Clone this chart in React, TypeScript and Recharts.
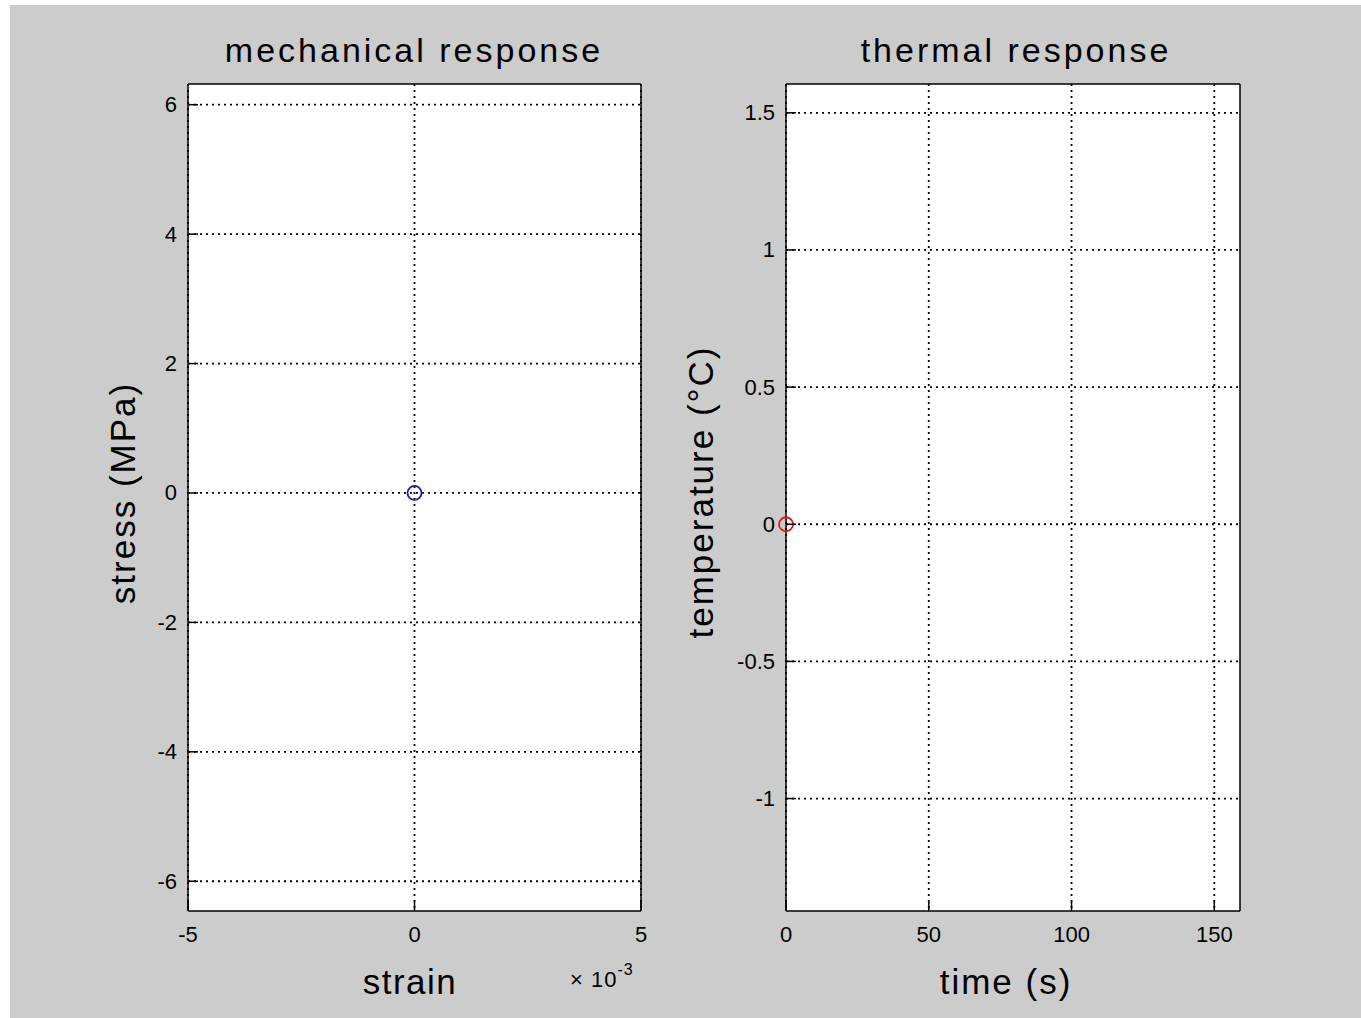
import React from 'react';
import { ScatterChart, Scatter, XAxis, YAxis, CartesianGrid } from 'recharts';

// mechanical response
const strainTicks = [-5, 0, 5];
const stressTicks = [-6, -4, -2, 0, 2, 4, 6];
const strainDomain = [-5, 5];
const stressDomain = [-6.46, 6.32];
const mechPoints = [{ strain: 0, stress: 0 }];

// thermal response
const timeTicks = [0, 50, 100, 150];
const tempTicks = [-1, -0.5, 0, 0.5, 1, 1.5];
const timeDomain = [0, 159];
const tempDomain = [-1.41, 1.605];
const thermPoints = [{ time: 0, temp: 0 }];

const FONT = '"Liberation Sans", Arial, sans-serif';
const TICK_LEN = 10;
const tickText = { fontFamily: FONT, fontSize: 22, fill: '#000' };

const LeftTick = ({ x, y, payload }: any) => (
  <g>
    <line x1={x} x2={x + TICK_LEN} y1={y} y2={y} stroke="#000" strokeWidth={1.5} />
    <text x={x - 11} y={y} textAnchor="end" dominantBaseline="central" {...tickText}>
      {payload.value}
    </text>
  </g>
);

const RightTick = ({ x, y }: any) => (
  <line x1={x} x2={x - TICK_LEN} y1={y} y2={y} stroke="#000" strokeWidth={1.5} />
);

const BottomTick = ({ x, y, payload }: any) => (
  <g>
    <line x1={x} x2={x} y1={y} y2={y - TICK_LEN} stroke="#000" strokeWidth={1.5} />
    <text x={x} y={y + 23} textAnchor="middle" dominantBaseline="central" {...tickText}>
      {payload.value}
    </text>
  </g>
);

const TopTick = ({ x, y }: any) => (
  <line x1={x} x2={x} y1={y} y2={y + TICK_LEN} stroke="#000" strokeWidth={1.5} />
);

const ringShape = (color: string) => (props: any) => (
  <circle cx={props.cx} cy={props.cy} r={7} fill="none" stroke={color} strokeWidth={1.8} />
);

const axisLine = { stroke: '#000', strokeWidth: 1.5 };

function Panel({
  width, height, margin, data, xKey, yKey, xDomain, yDomain, xTicks, yTicks, color,
}: any) {
  return (
    <ScatterChart width={width} height={height} margin={margin}>
      <CartesianGrid
        fill="#fff"
        stroke="#000"
        strokeDasharray="2 4"
        strokeWidth={1.8}
        horizontalValues={yTicks}
        verticalValues={xTicks}
      />
      <XAxis
        type="number"
        dataKey={xKey}
        domain={xDomain}
        ticks={xTicks}
        height={1}
        tickSize={0}
        tickMargin={0}
        tickLine={false}
        axisLine={axisLine}
        tick={<BottomTick />}
        interval={0}
      />
      <XAxis
        xAxisId="top"
        orientation="top"
        type="number"
        domain={xDomain}
        ticks={xTicks}
        height={1}
        tickSize={0}
        tickMargin={0}
        tickLine={false}
        axisLine={axisLine}
        tick={<TopTick />}
        interval={0}
      />
      <YAxis
        type="number"
        dataKey={yKey}
        domain={yDomain}
        ticks={yTicks}
        width={1}
        tickSize={0}
        tickMargin={0}
        tickLine={false}
        axisLine={axisLine}
        tick={<LeftTick />}
        interval={0}
      />
      <YAxis
        yAxisId="right"
        orientation="right"
        type="number"
        domain={yDomain}
        ticks={yTicks}
        width={1}
        tickSize={0}
        tickMargin={0}
        tickLine={false}
        axisLine={axisLine}
        tick={<RightTick />}
        interval={0}
      />
      <Scatter data={data} shape={ringShape(color)} isAnimationActive={false} />
    </ScatterChart>
  );
}

const textStyle: React.CSSProperties = {
  position: 'absolute',
  fontFamily: FONT,
  color: '#000',
  whiteSpace: 'nowrap',
  lineHeight: 1,
};

function CenterText({ x, y, size, children, spacing = 1.5 }: any) {
  return (
    <div
      style={{
        ...textStyle,
        left: x,
        top: y,
        fontSize: size,
        letterSpacing: spacing,
        transform: 'translate(-50%, -50%)',
      }}
    >
      {children}
    </div>
  );
}

export default function App() {
  return (
    <div style={{ position: 'fixed', left: 0, top: 0, width: 1361, height: 1018, background: '#fff', overflow: 'hidden' }}>
      <div style={{ position: 'absolute', left: 10, top: 5, right: 0, bottom: 0, background: '#cccccc' }} />

      <div style={{ position: 'absolute', left: 0, top: 0 }}>
        <Panel
          width={680}
          height={1018}
          margin={{ top: 83, left: 187, right: 38, bottom: 106 }}
          data={mechPoints}
          xKey="strain"
          yKey="stress"
          xDomain={strainDomain}
          yDomain={stressDomain}
          xTicks={strainTicks}
          yTicks={stressTicks}
          color="#1a1acc"
        />
      </div>
      <div style={{ position: 'absolute', left: 680, top: 0 }}>
        <Panel
          width={681}
          height={1018}
          margin={{ top: 83, left: 105, right: 120, bottom: 106 }}
          data={thermPoints}
          xKey="time"
          yKey="temp"
          xDomain={timeDomain}
          yDomain={tempDomain}
          xTicks={timeTicks}
          yTicks={tempTicks}
          color="#e01818"
        />
      </div>

      <CenterText x={414} y={50} size={34} spacing={3}>mechanical response</CenterText>
      <CenterText x={1016} y={50} size={34} spacing={3}>thermal response</CenterText>
      <CenterText x={410} y={981} size={35} spacing={1.5}>strain</CenterText>
      <CenterText x={1006} y={981} size={35} spacing={2}>time (s)</CenterText>
      <CenterText x={122} y={493} size={35} spacing={2}>
        <span style={{ display: 'inline-block', transform: 'rotate(-90deg)' }}>stress (MPa)</span>
      </CenterText>
      <CenterText x={700} y={492} size={35} spacing={2}>
        <span style={{ display: 'inline-block', transform: 'rotate(-90deg)' }}>temperature (°C)</span>
      </CenterText>

      <div style={{ ...textStyle, left: 570, top: 966, fontSize: 22, letterSpacing: 1 }}>
        × 10<sup style={{ fontSize: 16, position: 'relative', top: -4 }}>-3</sup>
      </div>
    </div>
  );
}
